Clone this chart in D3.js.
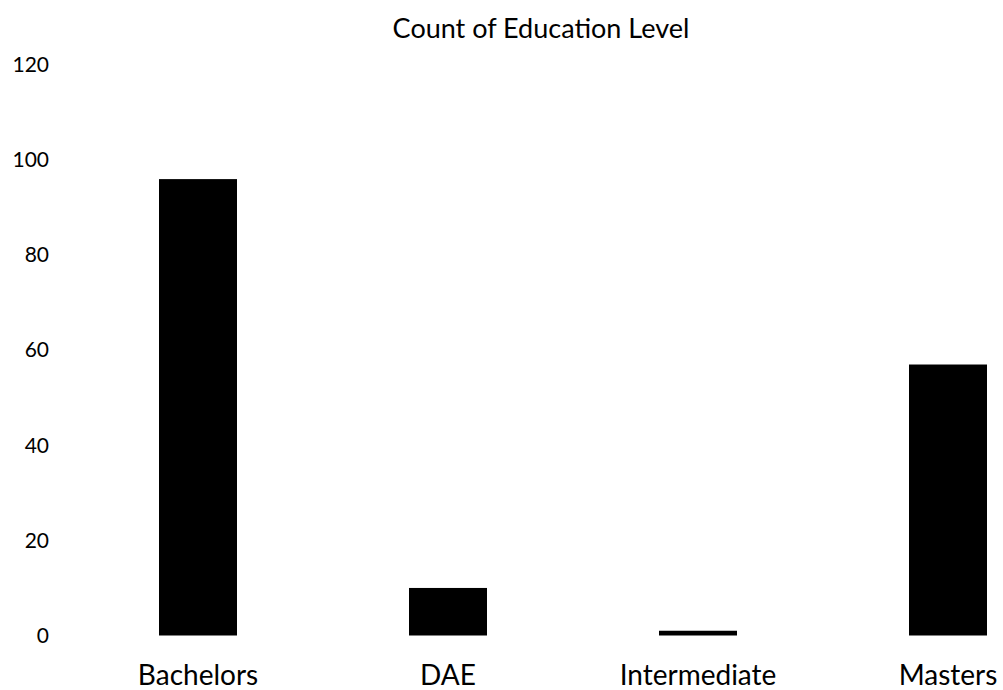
<!DOCTYPE html>
<html>
<head>
<meta charset="utf-8">
<script src="https://cdn.jsdelivr.net/npm/d3@7"></script>
<style>
  body { margin: 0; background: #fff; }
  text { font-family: Lato, "Open Sans", sans-serif; fill: #000; }
</style>
</head>
<body>
<div id="chart"></div>
<script>
const categories = ["Bachelors", "DAE", "Intermediate", "Masters"];
const counts = [96, 10, 1, 57];
const yTicks = [0, 20, 40, 60, 80, 100, 120];

const width = 1003;
const height = 690;

const svg = d3
  .select("#chart")
  .append("svg")
  .attr("width", width)
  .attr("height", height);

const x = d3
  .scaleBand()
  .domain(categories)
  .range([73, 1073])
  .paddingInner(0.688)
  .paddingOuter(0.344);

const y = d3.scaleLinear().domain([0, 120]).range([635.5, 65]);

// title
svg
  .append("text")
  .attr("x", 541)
  .attr("y", 38)
  .attr("text-anchor", "middle")
  .style("font-size", "27px")
  .text("Count of Education Level");

// y axis labels only, no line
const yAxis = svg
  .append("g")
  .attr("transform", "translate(56,0)")
  .call(d3.axisLeft(y).tickValues(yTicks).tickSize(0).tickPadding(7));
yAxis.select(".domain").remove();
yAxis.selectAll("text").style("font-size", "21px").attr("fill", "#000");

// bars
svg
  .append("g")
  .selectAll("rect")
  .data(categories)
  .join("rect")
  .attr("x", d => x(d))
  .attr("width", x.bandwidth())
  .attr("y", (d, i) => y(counts[i]))
  .attr("height", (d, i) => y(0) - y(counts[i]))
  .attr("fill", "#000");

// category labels
const xAxis = svg
  .append("g")
  .attr("transform", "translate(0," + y(0) + ")")
  .call(d3.axisBottom(x).tickSize(0).tickPadding(30));
xAxis.select(".domain").remove();
xAxis.selectAll("text").style("font-size", "28px").attr("fill", "#000");
</script>
</body>
</html>
